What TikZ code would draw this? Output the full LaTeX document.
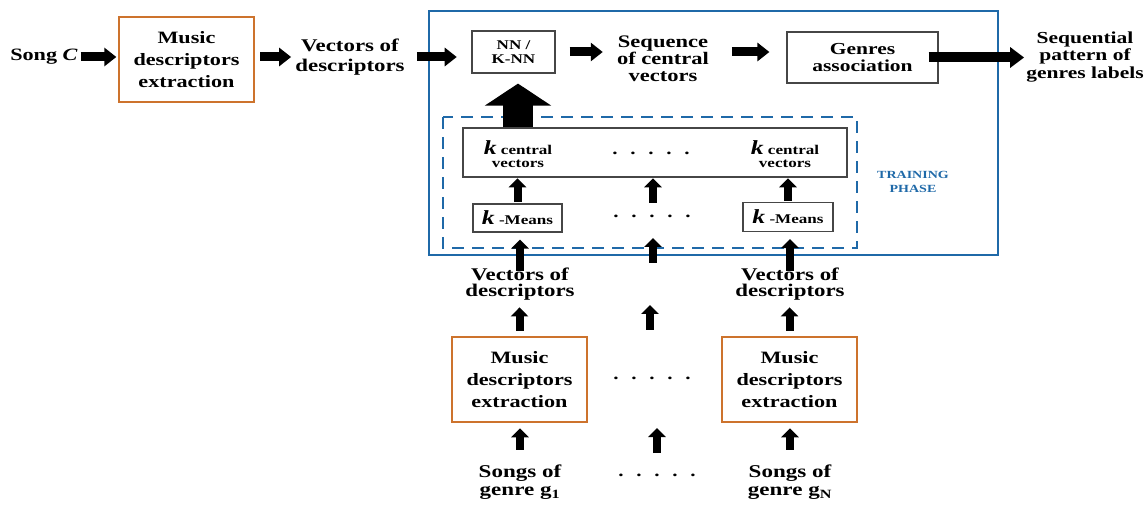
\documentclass[tikz,border=0pt]{standalone}
\usepackage{fontspec}
\setmainfont{Liberation Serif}[FakeStretch=1.28]
\usetikzlibrary{arrows.meta,calc}
\definecolor{frameblue}{RGB}{31,105,168}
\definecolor{boxorange}{RGB}{205,115,45}
\definecolor{boxgrey}{RGB}{70,70,70}
\newcommand\fivedots{.\hspace{9.5pt}.\hspace{9.5pt}.\hspace{9.5pt}.\hspace{9.5pt}.}
\newcommand\kvar{{\fontsize{15}{15}\selectfont\itshape k}}

\begin{document}
\begin{tikzpicture}[x=0.75pt,y=-0.75pt,
  lbl/.style={font=\fontsize{13}{12.5}\selectfont\bfseries, align=center, inner sep=0pt},
  smalllbl/.style={font=\fontsize{10}{10}\selectfont\bfseries, align=center, inner sep=0pt},
  extractbox/.style={draw=boxorange, line width=2pt, font=\fontsize{13}{16.5}\selectfont\bfseries,
    align=center, minimum width=101.25pt, minimum height=63.75pt, inner sep=0pt},
  greybox/.style={draw=boxgrey, line width=0.9pt, align=center, inner sep=0pt},
  harr/.style={line width=6.75pt, -{Triangle[length=9pt,width=13.5pt]}},
  vup/.style={line width=6pt, -{Triangle[length=6.75pt,width=13pt]}},
  bigup/.style={line width=23pt, -{Triangle[length=16.5pt,width=49pt]}},
  dotrow/.style={font=\fontsize{12.4}{12}\selectfont\bfseries, inner sep=0pt}
]
\useasboundingbox (0,0) rectangle (1148,505);

% testing chain
\node[lbl] (songc) at (44,57) {Song \textit{C}};
\node[extractbox] (mde0) at (186.5,59.5) {Music\\descriptors\\extraction};
\node[lbl, font=\fontsize{13.4}{15}\selectfont\bfseries] (vec0) at (350,57) {Vectors of\\descriptors};
\node[greybox, minimum width=62.25pt, minimum height=31.5pt, font=\fontsize{10}{10.5}\selectfont\bfseries] (nn) at (513.5,52) {NN /\\K-NN};
\node[lbl, font=\fontsize{13.2}{12.8}\selectfont\bfseries] (seq) at (663,59) {Sequence\\of central\\vectors};
\node[greybox, minimum width=113.25pt, minimum height=38.25pt, font=\fontsize{12.6}{12.5}\selectfont\bfseries] (ga) at (862.5,57.5) {Genres\\association};
\node[lbl, font=\fontsize{12.6}{13}\selectfont\bfseries] (seql) at (1085,57) {Sequential\\pattern of\\genres labels};

% classification frame and training phase frame
\draw[frameblue, line width=2pt] (429,11) rectangle (998,255);
\draw[frameblue, line width=2pt, dash pattern=on 9pt off 6pt] (443,117) rectangle (857,248);
\node[smalllbl, text=frameblue, font=\fontsize{8.2}{11}\selectfont\bfseries] (train) at (913,182) {TRAINING\\PHASE};

% central vectors
\node[greybox, minimum width=288pt, minimum height=36.75pt] (kc) at (655,152.5) {};
\node[smalllbl] (kc1) at (518,154) {\kvar\ central\\vectors};
\node[smalllbl] (kc2) at (785,154) {\kvar\ central\\vectors};
\node[dotrow] (dots1) at (651,153) {\fivedots};

% k-means boxes
\node[greybox, smalllbl, minimum width=66.75pt, minimum height=21pt] (km1) at (517.5,218) {\kvar\ -Means};
\node[greybox, smalllbl, minimum width=67.5pt, minimum height=21.75pt] (km2) at (788,217) {\kvar\ -Means};
\node[dotrow] (dots2) at (652,216) {\fivedots};

% per-genre chains
\node[lbl, font=\fontsize{13.4}{12.5}\selectfont\bfseries] (vec1) at (520,284) {Vectors of\\descriptors};
\node[lbl, font=\fontsize{13.4}{12.5}\selectfont\bfseries] (vec2) at (790,284) {Vectors of\\descriptors};
\node[extractbox] (mde1) at (519.5,379.5) {Music\\descriptors\\extraction};
\node[extractbox] (mde2) at (789.5,379.5) {Music\\descriptors\\extraction};
\node[dotrow] (dots3) at (652,378) {\fivedots};
\node[lbl, font=\fontsize{13.5}{13.5}\selectfont\bfseries] (song1) at (520,482) {Songs of\\genre g\textsubscript{1}};
\node[lbl, font=\fontsize{13.5}{13.5}\selectfont\bfseries] (song2) at (790,482) {Songs of\\genre g\textsubscript{N}};
\node[dotrow] (dots4) at (657,475) {\fivedots};

% free ends of the middle column arrows
\coordinate (mA) at (653,203);
\coordinate (mB) at (653,263);
\coordinate (mC) at (650,330);
\coordinate (mD) at (657,453);

% horizontal connectors
\draw[harr, shorten <=2pt, shorten >=1pt] (songc.east) -- (songc.east -| mde0.west);
\draw[harr, shorten <=3.5pt, shorten >=3pt] (mde0.east |- vec0) -- (vec0.west);
\draw[harr, shorten <=9pt, shorten >=11pt] (vec0.east) -- (vec0.east -| nn.west);
\draw[harr, shorten <=10.5pt, shorten >=10.5pt] (nn.east) -- (nn.east -| seq.west);
\draw[harr, shorten <=17pt, shorten >=12.75pt] (seq.east |- nn.east) -- (ga.west |- nn.east);
\draw[line width=7.5pt, -{Triangle[length=10.5pt,width=15pt]}, shorten >=1.5pt] ([xshift=-7.5pt]ga.east) -- (seql.west |- ga.east);

% vertical connectors
\draw[bigup, shorten >=7.5pt] (kc.north -| kc1) -- (nn.south -| kc1);
\draw[vup, shorten <=1pt, shorten >=0.5pt] (km1.north) -- (kc.south -| km1);
\draw[vup, shorten >=0.5pt] (mA) -- (mA |- kc.south);
\draw[vup, shorten <=1pt, shorten >=0.5pt] (km2.north) -- (kc.south -| km2);
\draw[vup] (vec1.north) ++(0,4) -- ($(vec1.north |- km1.south)+(0,7)$);
\draw[vup] (mB) -- (653,238);
\draw[vup] (vec2.north) ++(0,4) -- ($(vec2.north |- km2.south)+(0,7)$);
\draw[vup, shorten <=3.75pt, shorten >=5pt] (mde1.north) -- (mde1.north |- vec1.south);
\draw[vup] (mC) -- (650,305);
\draw[vup, shorten <=3.75pt, shorten >=5pt] (mde2.north) -- (mde2.north |- vec2.south);
\draw[vup, shorten <=11pt, shorten >=3.75pt] (song1.north) -- (song1.north |- mde1.south);
\draw[vup] (mD) -- (657,428);
\draw[vup, shorten <=11pt, shorten >=3.75pt] (song2.north) -- (song2.north |- mde2.south);
\end{tikzpicture}
\end{document}
